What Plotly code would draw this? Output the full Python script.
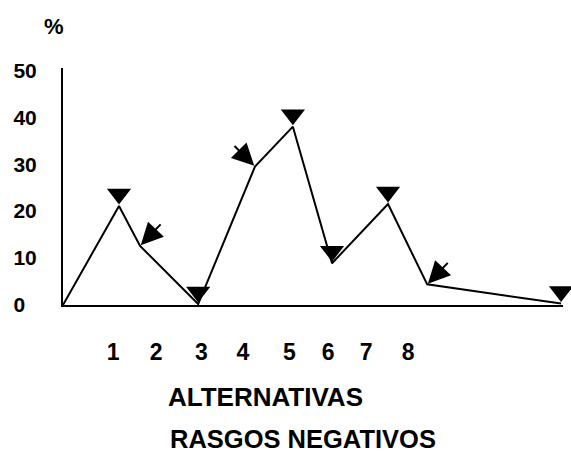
import plotly.graph_objects as go

# data (x positions in axis units, values in %)
x_pos = [0.0, 1.33, 1.83, 3.21, 4.56, 5.46, 6.39, 7.72, 8.65, 11.83]
values = [0.0, 21.1, 12.6, 0.2, 29.5, 38.0, 8.9, 21.5, 4.4, 0.3]
tri_idx = [1, 3, 5, 6, 7, 9]
arrow_idx = [2, 4, 8]
arrow_dirs = [(22, -23), (-22, -22), (22, -23)]
label_pos = [1.19, 2.21, 3.29, 4.27, 5.38, 6.30, 7.20, 8.20]
label_text = ["1", "2", "3", "4", "5", "6", "7", "8"]
y_ticks = [0, 10, 20, 30, 40, 50]

fig = go.Figure()
fig.add_trace(go.Scatter(x=x_pos, y=values, mode="lines",
                         line=dict(color="black", width=2), hoverinfo="skip"))
fig.add_trace(go.Scatter(x=[x_pos[i] for i in tri_idx], y=[values[i] for i in tri_idx],
                         mode="markers", cliponaxis=False,
                         marker=dict(symbol="triangle-up", angle=180, standoff=12, size=21,
                                     color="black", line=dict(width=0)),
                         hoverinfo="skip"))

for i, (ax, ay) in zip(arrow_idx, arrow_dirs):
    fig.add_annotation(x=x_pos[i], y=values[i], ax=ax, ay=ay, text="",
                       showarrow=True, arrowhead=2, arrowsize=2.2, arrowwidth=2,
                       arrowcolor="black", standoff=1)

nb = "\u00a0"
ytext = [str(v) if v >= 10 else str(v) + nb * 2 for v in y_ticks]

fig.update_layout(
    width=571, height=456,
    margin=dict(l=63, r=8, t=68, b=151),
    paper_bgcolor="white", plot_bgcolor="white",
    showlegend=False,
    font=dict(family="Liberation Sans", color="black"),
    xaxis=dict(range=[0, 11.876], showgrid=False, zeroline=False,
               showline=True, linecolor="black", linewidth=2,
               tickvals=label_pos, ticktext=label_text,
               ticks="outside", ticklen=25, tickcolor="rgba(0,0,0,0)",
               tickfont=dict(family="Liberation Sans", size=23, weight="bold")),
    yaxis=dict(range=[0, 50.5], showgrid=False, zeroline=False,
               showline=True, linecolor="black", linewidth=2,
               tickvals=y_ticks, ticktext=ytext, ticks="", ticklabelstandoff=20,
               tickfont=dict(family="Liberation Sans", size=21, weight="bold")),
    annotations=list(fig.layout.annotations) + [
        dict(text="%", x=-0.018, y=1.173, xref="paper", yref="paper", showarrow=False,
             xanchor="center", yanchor="middle",
             font=dict(family="Liberation Sans", size=22, weight="bold")),
        dict(text="ALTERNATIVAS", x=0.404, y=-0.388, xref="paper", yref="paper", showarrow=False,
             xanchor="center", yanchor="middle",
             font=dict(family="Liberation Sans", size=26, weight="bold")),
        dict(text="RASGOS NEGATIVOS", x=0.48, y=-0.566, xref="paper", yref="paper", showarrow=False,
             xanchor="center", yanchor="middle",
             font=dict(family="Liberation Sans", size=25.5, weight="bold")),
    ],
)

fig.write_html("out.html", config={"displayModeBar": False},
               post_script="document.body.style.margin='0';")
